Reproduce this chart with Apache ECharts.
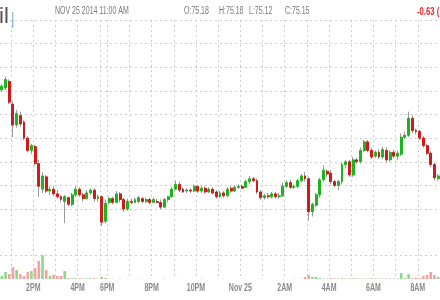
<!DOCTYPE html>
<html><head><meta charset="utf-8">
<script src="https://cdn.jsdelivr.net/npm/echarts@6/dist/echarts.min.js"></script>
<style>html,body{margin:0;padding:0;background:#fff}#c{width:440px;height:300px}</style>
</head><body><div id="c"></div>
<script>
// 10-minute slots, Nov 24 12:30 PM – Nov 25 8:50 AM (session break 5:15–6:00 PM)
const times = [
'12:30','12:40','12:50',
'13:00','13:10','13:20','13:30','13:40','13:50',
'14:00','14:10','14:20','14:30','14:40','14:50',
'15:00','15:10','15:20','15:30','15:40','15:50',
'16:00','16:10','16:20','16:30','16:40','16:50',
'17:00','17:10',
'18:00','18:10','18:20','18:30','18:40','18:50',
'19:00','19:10','19:20','19:30','19:40','19:50',
'20:00','20:10','20:20','20:30','20:40','20:50',
'21:00','21:10','21:20','21:30','21:40','21:50',
'22:00','22:10','22:20','22:30','22:40','22:50',
'23:00','23:10','23:20','23:30','23:40','23:50',
'00:00','00:10','00:20','00:30','00:40','00:50',
'01:00','01:10','01:20','01:30','01:40','01:50',
'02:00','02:10','02:20','02:30','02:40','02:50',
'03:00','03:10','03:20','03:30','03:40','03:50',
'04:00','04:10','04:20','04:30','04:40','04:50',
'05:00','05:10','05:20','05:30','05:40','05:50',
'06:00','06:10','06:20','06:30','06:40','06:50',
'07:00','07:10','07:20','07:30','07:40','07:50',
'08:00','08:10','08:20','08:30','08:40','08:50'
];
const opens = [76.01,76.03,76.10,75.86,75.64,75.74,75.67,75.50,75.37,75.41,
75.23,74.96,75.09,74.94,74.96,74.91,74.88,74.83,74.87,74.80,
74.90,74.96,74.90,74.86,74.92,74.95,74.86,74.88,74.62,74.82,
74.86,74.82,74.91,74.85,74.75,74.83,74.82,74.83,74.86,74.83,
74.85,74.82,74.83,74.82,74.77,74.85,74.88,74.96,75.01,74.96,
74.94,74.95,74.94,74.99,74.94,74.97,74.93,74.96,74.93,74.88,
74.92,74.89,74.97,74.94,74.98,74.99,74.98,75.04,75.07,75.05,
74.93,74.87,74.89,74.88,74.91,74.88,74.89,74.99,75.03,74.98,
74.99,75.05,75.10,75.07,74.72,74.79,74.90,75.06,75.15,75.13,
75.04,75.00,75.04,75.22,75.25,75.11,75.27,75.25,75.37,75.46,
75.37,75.31,75.35,75.30,75.37,75.27,75.35,75.31,75.33,75.51,
75.53,75.71,75.58,75.57,75.50,75.42,75.34,75.22,75.07];
const closes = [76.05,76.12,75.88,75.64,75.76,75.65,75.50,75.37,75.42,75.23,
74.99,75.10,74.94,74.96,74.91,74.88,74.85,74.88,74.80,74.90,
74.96,74.90,74.86,74.92,74.95,74.86,74.88,74.61,74.81,74.86,
74.82,74.91,74.85,74.75,74.83,74.82,74.85,74.87,74.83,74.85,
74.82,74.85,74.82,74.77,74.85,74.88,74.96,75.01,74.95,74.93,
74.95,74.94,74.99,74.94,74.97,74.93,74.96,74.92,74.88,74.92,
74.89,74.96,74.94,74.98,74.99,74.97,75.04,75.07,75.05,74.93,
74.87,74.89,74.88,74.91,74.88,74.89,74.99,75.03,74.98,74.99,
75.05,75.10,75.07,74.72,74.80,74.90,75.06,75.16,75.12,75.04,
75.00,75.04,75.22,75.25,75.11,75.27,75.25,75.37,75.46,75.37,
75.30,75.35,75.30,75.38,75.27,75.35,75.31,75.34,75.51,75.53,
75.71,75.58,75.57,75.50,75.42,75.34,75.22,75.08,75.10];
const highs = [76.07,76.15,76.12,75.89,75.80,75.78,75.69,75.52,75.44,75.43,
75.27,75.14,75.11,74.99,74.99,74.95,74.90,74.90,74.88,74.92,
74.99,74.98,74.92,74.95,74.97,74.97,74.90,74.89,74.85,74.88,
74.88,74.94,74.93,74.87,74.86,74.86,74.87,74.89,74.88,74.87,
74.87,74.87,74.86,74.85,74.87,74.89,74.98,75.05,75.04,74.98,
74.97,74.97,75.01,75.00,74.99,74.99,74.98,74.98,74.95,74.94,
74.94,74.98,74.99,75.00,75.01,75.01,75.06,75.10,75.09,75.07,
74.95,74.91,74.92,74.93,74.93,74.92,75.03,75.05,75.06,75.01,
75.07,75.12,75.14,75.09,74.82,74.92,75.08,75.21,75.17,75.16,
75.06,75.06,75.24,75.27,75.27,75.30,75.29,75.40,75.48,75.48,
75.40,75.37,75.38,75.41,75.40,75.37,75.38,75.37,75.55,75.57,
75.78,75.74,75.60,75.59,75.52,75.44,75.36,75.24,75.12];
const lows = [75.99,76.01,75.86,75.51,75.61,75.62,75.48,75.35,75.33,75.21,
74.88,74.92,74.92,74.90,74.89,74.86,74.82,74.60,74.78,74.78,
74.88,74.88,74.83,74.85,74.90,74.83,74.83,74.57,74.60,74.80,
74.80,74.81,74.82,74.72,74.73,74.80,74.81,74.81,74.81,74.81,
74.80,74.81,74.81,74.75,74.76,74.82,74.87,74.95,74.93,74.92,
74.92,74.92,74.93,74.92,74.92,74.91,74.92,74.90,74.86,74.87,
74.87,74.88,74.92,74.93,74.96,74.96,74.97,75.01,75.03,74.91,
74.85,74.85,74.86,74.86,74.86,74.86,74.88,74.97,74.96,74.96,
74.97,75.03,75.04,74.63,74.67,74.77,74.87,75.04,75.09,75.01,
74.98,74.95,75.01,75.18,75.09,75.09,75.23,75.23,75.35,75.35,
75.28,75.29,75.28,75.28,75.24,75.25,75.29,75.27,75.31,75.49,
75.51,75.55,75.54,75.48,75.40,75.32,75.19,75.05,75.05];
const volumes = [130,300,210,510,390,210,130,300,340,470,
770,1030,390,130,170,130,130,340,40,40,
30,30,30,20,30,30,20,90,40,10,
10,0,10,0,10,0,0,10,0,0,
10,0,0,0,10,0,0,0,10,0,
0,0,0,0,10,0,0,0,0,0,
10,0,0,0,0,10,0,0,0,0,
10,0,0,0,0,0,10,0,0,10,
0,10,90,170,90,90,40,20,20,30,
20,20,30,20,20,30,20,20,20,20,
30,20,20,20,20,20,20,20,260,40,
210,40,60,40,130,170,300,170,90];
const tickLabels = {'14:00':'2PM','16:00':'4PM','18:00':'6PM','20:00':'8PM','22:00':'10PM',
  '00:00':'Nov 25','02:00':'2AM','04:00':'4AM','06:00':'6AM','08:00':'8AM'};
const headerTitle = 'il';
const headerDate = 'NOV 25 2014 11:00 AM';
const headerOHLC = ['O:75.18','H:75.18','L:75.12','C:75.15'];
const headerChange = '-0.63 (';

const UP = '#1cb51c', DOWN = '#cf1b1b', WICK = '#9a9a9a';
const GRIDC = '#cfcfcf';
const FONT = "'Liberation Sans',Arial,sans-serif";
const SQUEEZE = 0.7;

const wickData = times.map((t,i)=>[opens[i],closes[i],lows[i],highs[i]]);
const bodyData = times.map((t,i)=>[opens[i],closes[i],Math.min(opens[i],closes[i]),Math.max(opens[i],closes[i])]);

const chart = echarts.init(document.getElementById('c'), null, {renderer:'canvas'});
const hourLine = (idx, v) => v.endsWith(':00');
const splitStyle = {show:true, interval:hourLine, lineStyle:{color:GRIDC, type:[2,3], width:1}};

chart.setOption({
  animation:false,
  backgroundColor:'#fff',
  grid:[
    {left:-2, right:0, top:20, bottom:91, containLabel:false},
    {left:-2, right:0, top:209, bottom:21, containLabel:false}
  ],
  xAxis:[
    {type:'category', gridIndex:0, data:times, boundaryGap:true,
     axisLine:{show:false}, axisTick:{show:false}, axisLabel:{show:false}, splitLine:splitStyle},
    {type:'category', gridIndex:1, data:times, boundaryGap:true,
     axisLine:{show:false}, axisTick:{show:false}, splitLine:splitStyle, axisLabel:{show:false}}
  ],
  yAxis:[
    {type:'value', gridIndex:0, position:'right', min:74.75, max:76.75, interval:0.25,
     axisLine:{show:false}, axisTick:{show:false}, axisLabel:{show:false},
     splitLine:{show:true, lineStyle:{color:GRIDC, type:[2,3], width:1}}},
    {type:'value', gridIndex:1, position:'right', min:0, max:3000,
     axisLine:{show:false}, axisTick:{show:false}, axisLabel:{show:false}, splitLine:{show:false}}
  ],
  series:[
    {type:'candlestick', xAxisIndex:0, yAxisIndex:0, data:wickData, clip:false, barWidth:1,
     itemStyle:{color:WICK, color0:WICK, borderColor:WICK, borderColor0:WICK, borderWidth:1}, silent:true},
    {type:'candlestick', xAxisIndex:0, yAxisIndex:0, data:bodyData, clip:false, barWidth:2.4,
     itemStyle:{color:UP, color0:DOWN, borderColor:UP, borderColor0:DOWN, borderWidth:1}, silent:true},
    {type:'bar', xAxisIndex:1, yAxisIndex:1, data:volumes, barWidth:2.6, silent:true,
     itemStyle:{color:p=> closes[p.dataIndex] >= opens[p.dataIndex] ? '#8ad88a' : '#f4a3a3'},
     markLine:{silent:true, symbol:'none', label:{show:false}, data:[{yAxis:1000}],
       lineStyle:{color:GRIDC, type:[2,3], width:1}}}
  ]
});

// condensed text labels (header + time axis), positioned from the category axis scale
const txt = (x, y, text, fill, font, align) => ({type:'text', x:x, y:y, scaleX:SQUEEZE,
  style:{text:text, fill:fill, font:font, align:align||'left', verticalAlign:'middle'}});
const p0 = chart.convertToPixel({xAxisIndex:1}, times[0]);
const p1 = chart.convertToPixel({xAxisIndex:1}, times[1]);
const half = (p1 - p0) / 2;
const axisLabels = Object.keys(tickLabels).map(k => {
  const cx = chart.convertToPixel({xAxisIndex:1}, k) - half;
  return {type:'text', x:cx, y:288, scaleX:SQUEEZE,
    style:{text:tickLabels[k], fill:'#8a8a8a', font:"bold 10px "+FONT, align:'center', verticalAlign:'middle'}};
});
chart.setOption({graphic:[
  {type:'text', x:-1, y:6, style:{text:headerTitle, fill:'#555', font:"22px "+FONT}},
  {type:'rect', shape:{x:12, y:12, width:1.5, height:16}, style:{fill:'#9cc0e4'}},
  txt(55, 11.5, headerDate, '#7a7a7a', "10px "+FONT),
  txt(184, 11.5, headerOHLC[0], '#7a7a7a', "10px "+FONT),
  txt(219, 11.5, headerOHLC[1], '#7a7a7a', "10px "+FONT),
  txt(249, 11.5, headerOHLC[2], '#7a7a7a', "10px "+FONT),
  txt(285, 11.5, headerOHLC[3], '#7a7a7a', "10px "+FONT),
  txt(417, 11.5, headerChange, '#e8262a', "bold 11px "+FONT)
].concat(axisLabels)});
</script></body></html>
